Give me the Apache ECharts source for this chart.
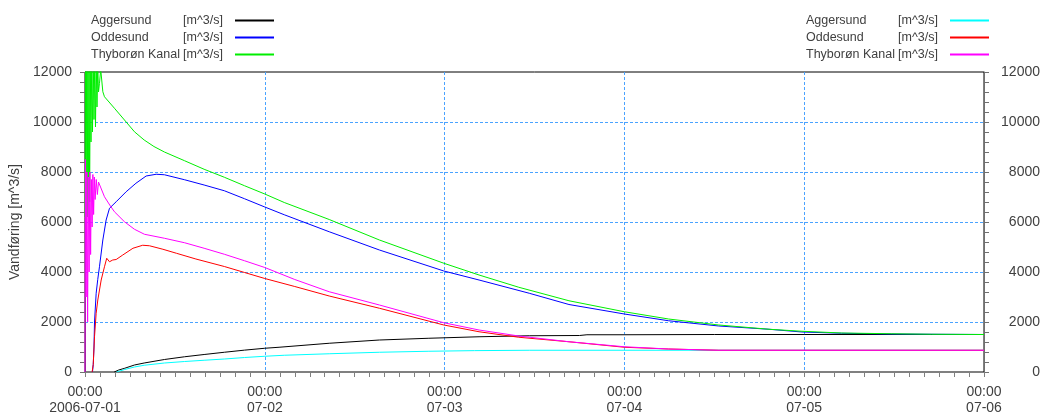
<!DOCTYPE html>
<html>
<head>
<meta charset="utf-8">
<script src="https://cdn.jsdelivr.net/npm/echarts@6/dist/echarts.min.js"></script>
<style>
html,body{margin:0;padding:0;background:#fff;}
#chart{width:1046px;height:417px;}
</style>
</head>
<body>
<div id="chart"></div>
<script>
// Time axis in hours since 2006-07-01 00:00
var xTickLabels = ['00:00\n2006-07-01', '00:00\n07-02', '00:00\n07-03', '00:00\n07-04', '00:00\n07-05', '00:00\n07-06'];
var yAxisName = 'Vandføring [m^3/s]';
var unitText = '[m^3/s]';
var stationNames = ['Aggersund', 'Oddesund', 'Thyborøn Kanal'];

// Left axis series [hour, m^3/s]
var aggersundLeft = [[3.9,0],[4.5,80],[5.3,150],[6.6,280],[7.9,360],[10.6,500],[13.3,610],[15.9,700],[18.6,790],[21.3,875],[24,950],[25.9,990],[32.6,1150],[39.3,1280],[45.9,1350],[52.6,1410],[59.3,1450],[66,1460],[67,1490],[72,1490],[84,1500],[96,1500],[120,1500]];
var oddesundLeft = [[1.0,0],[1.1,300],[1.2,1000],[1.27,2000],[1.49,3150],[1.7,3700],[1.93,4210],[2.38,5280],[2.82,6080],[3.27,6550],[4.16,6810],[5.49,7210],[6.8,7550],[8.16,7840],[9.5,7910],[10.6,7890],[13.3,7690],[15.9,7480],[18.6,7250],[21.3,6930],[24,6600],[26.6,6290],[32.6,5610],[39.3,4880],[47.9,4040],[52.6,3680],[59.3,3150],[64.6,2700],[72,2320],[77.9,2050],[84.6,1840],[91.3,1710],[95.7,1600],[101,1550],[107.7,1520],[113,1510],[120,1500]];
var thyboronLeft = [[0,6200],[0.07,12600],[0.14,6300],[0.22,12600],[0.3,6200],[0.38,12600],[0.46,7000],[0.54,12600],[0.62,6800],[0.7,12600],[0.8,9200],[0.9,12600],[1.0,9600],[1.1,12600],[1.2,10100],[1.3,12500],[1.4,9800],[1.5,12400],[1.6,10600],[1.7,12300],[1.8,11200],[1.93,11550],[2.1,12100],[2.38,11210],[2.6,11010],[3.93,10550],[5.27,10080],[6.6,9610],[7.9,9280],[9.2,9020],[10.6,8800],[13.3,8450],[15.9,8110],[18.6,7790],[21.3,7450],[24,7120],[26.6,6780],[32.6,6100],[39.3,5280],[47.9,4350],[52.6,3880],[57.9,3390],[64.6,2850],[72,2410],[77.9,2120],[84.6,1880],[91.3,1710],[95.7,1630],[101,1560],[107.7,1530],[113,1510],[120,1500]];

// Right axis series [hour, m^3/s]
var aggersundRight = [[4.2,0],[5.3,100],[6.6,200],[7.9,270],[10.6,360],[13.3,420],[15.9,470],[18.6,520],[21.3,580],[24,630],[26.6,670],[32.6,730],[39.3,790],[45.9,830],[52,855],[59.3,870],[120,870]];
var oddesundRight = [[0.95,0],[1.1,300],[1.27,1410],[1.49,2350],[1.71,2880],[2.16,3680],[2.6,4210],[2.9,4550],[3.27,4410],[3.7,4480],[4.16,4500],[5.04,4680],[6.4,4950],[7.7,5070],[8.6,5050],[10.4,4910],[12.2,4750],[14.8,4520],[18.6,4220],[21.3,3980],[24,3740],[28,3420],[32.6,3040],[39.3,2550],[47.9,1880],[52.6,1610],[57.9,1390],[64.6,1210],[72,990],[77.9,920],[84.6,870],[120,870]];
var thyboronRight = [[0,0],[0.05,8500],[0.15,3000],[0.25,8000],[0.35,2000],[0.45,7800],[0.55,4000],[0.65,8000],[0.75,4700],[0.85,7700],[0.95,5800],[1.05,7900],[1.15,6300],[1.25,7800],[1.35,6900],[1.5,7700],[1.65,7100],[1.8,7600],[1.93,7550],[2.6,7010],[3.3,6680],[3.93,6410],[5.27,6010],[6.6,5710],[7.93,5510],[10.6,5350],[13.3,5170],[15.9,4950],[18.6,4710],[21.3,4450],[24,4180],[28,3700],[32.6,3210],[39.3,2680],[47.9,1970],[52.6,1680],[57.9,1440],[64.6,1210],[72,1010],[77.9,920],[84.6,870],[120,870]];

var leftColors = ['#000000', '#0000ff', '#00ee00'];
var rightColors = ['#00ffff', '#ff0000', '#ff00ff'];

var font = 'Liberation Sans, Arial, sans-serif';
var textColor = '#404040';
var rightSuffix = ' (R)';

function legendFormatter(name) {
  return '{n|' + name.replace(rightSuffix, '') + '}{u|' + unitText + '}';
}
var legendRich = {
  n: {width: 92, align: 'left', fontSize: 12.5, fontFamily: font, color: textColor},
  u: {width: 47, align: 'left', fontSize: 12.5, fontFamily: font, color: textColor}
};

var leftNames = stationNames.slice();
var rightNames = stationNames.map(function (n) { return n + rightSuffix; });
var leftData = [aggersundLeft, oddesundLeft, thyboronLeft];
var rightData = [aggersundRight, oddesundRight, thyboronRight];

var series = [];
leftNames.forEach(function (n, i) {
  series.push({name: n, type: 'line', xAxisIndex: 0, yAxisIndex: 0, data: leftData[i], showSymbol: false, symbol: 'none',
    color: leftColors[i], itemStyle: {color: leftColors[i]}, lineStyle: {width: 1, color: leftColors[i]}, animation: false, clip: true});
});
rightNames.forEach(function (n, i) {
  series.push({name: n, type: 'line', xAxisIndex: 0, yAxisIndex: 1, data: rightData[i], showSymbol: false, symbol: 'none',
    color: rightColors[i], itemStyle: {color: rightColors[i]}, lineStyle: {width: 1, color: rightColors[i]}, animation: false, clip: true});
});

function legendCfg(names, colors, left) {
  return {
    data: names.map(function (n, i) {
      return {name: n, icon: 'rect', itemStyle: {color: colors[i], borderWidth: 0, opacity: 1}};
    }),
    orient: 'vertical', left: left, top: 9, align: 'right',
    itemWidth: 39, itemHeight: 2, itemGap: 4,
    itemStyle: {borderWidth: 0},
    formatter: legendFormatter, textStyle: {rich: legendRich}, selectedMode: false
  };
}

var gridDash = {color: '#4aa3ff', type: [3, 2], width: 1};

function numLabel(v) { return String(v); }

var yCommon = {
  type: 'value', min: 0, max: 12000, interval: 2000,
  axisTick: {show: true, length: 5, lineStyle: {color: '#707070'}},
  minorTick: {show: true, splitNumber: 5, length: 5, lineStyle: {color: '#707070'}}
};

var option = {
  animation: false,
  backgroundColor: '#ffffff',
  legend: [legendCfg(leftNames, leftColors, 86), legendCfg(rightNames, rightColors, 801)],
  grid: {left: 85, right: 62, top: 72, bottom: 45, show: true, borderColor: '#000', borderWidth: 1, backgroundColor: 'transparent'},
  xAxis: {
    type: 'value', min: 0, max: 120, interval: 24,
    axisLine: {show: true, onZero: false, lineStyle: {color: '#808080'}},
    axisTick: {show: true, length: 5, lineStyle: {color: '#808080'}},
    minorTick: {show: true, splitNumber: 12, length: 5, lineStyle: {color: '#808080'}},
    splitLine: {show: true, showMinLine: false, showMaxLine: false, lineStyle: gridDash},
    axisLabel: {
      formatter: function (v) { return xTickLabels[Math.round(v / 24)]; },
      fontSize: 14, fontFamily: font, color: textColor, lineHeight: 16, margin: 12,
      showMinLabel: true, showMaxLabel: true
    }
  },
  yAxis: [
    Object.assign({}, yCommon, {
      position: 'left',
      name: yAxisName, nameLocation: 'middle', nameGap: 56, nameRotate: 90,
      nameTextStyle: {fontSize: 14, fontFamily: font, color: textColor},
      axisLine: {show: true, lineStyle: {color: '#404040'}},
      axisLabel: {formatter: numLabel, fontSize: 14, fontFamily: font, color: textColor, margin: 13},
      splitLine: {show: true, showMinLine: false, showMaxLine: false, lineStyle: gridDash}
    }),
    Object.assign({}, yCommon, {
      position: 'right',
      axisLine: {show: true, lineStyle: {color: '#707070'}},
      axisLabel: {formatter: numLabel, fontSize: 14, fontFamily: font, color: textColor, align: 'right', margin: 56},
      splitLine: {show: false}
    })
  ],
  series: series
};

var chart = echarts.init(document.getElementById('chart'), null, {renderer: 'canvas'});
chart.setOption(option);
</script>
</body>
</html>
